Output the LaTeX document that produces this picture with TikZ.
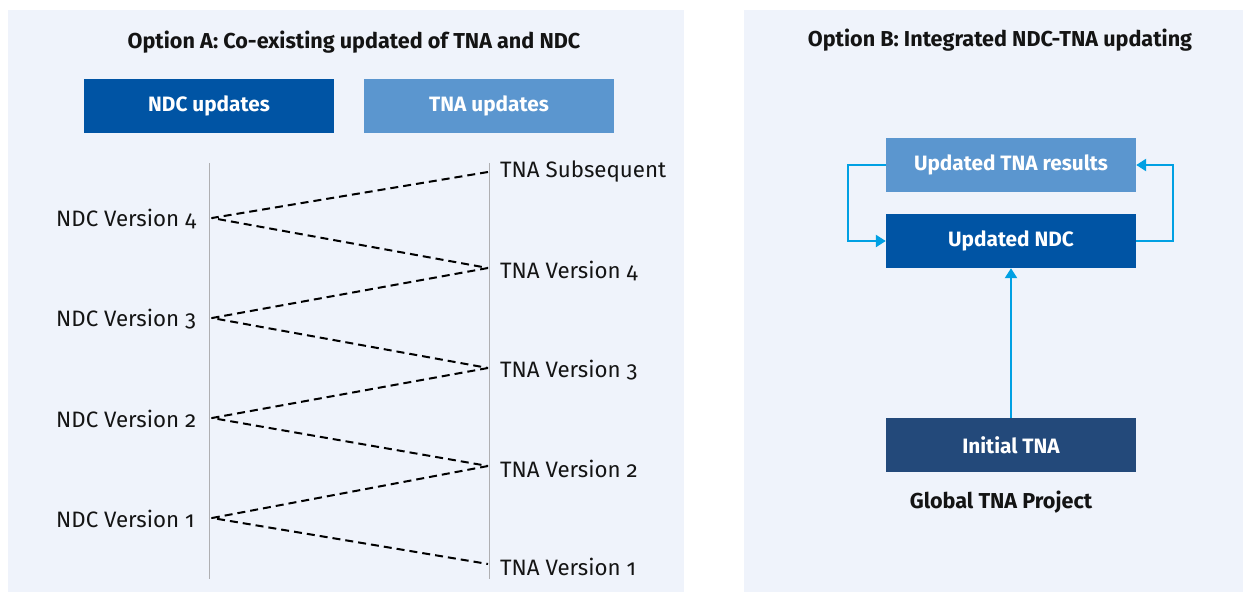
\documentclass[tikz,border=0pt]{standalone}
\usepackage{fontspec}
\setmainfont{Fira Sans}[Numbers=OldStyle]
\usetikzlibrary{arrows.meta}
\definecolor{panelbg}{RGB}{239,243,251}
\definecolor{ndcblue}{RGB}{0,84,164}
\definecolor{tnablue}{RGB}{91,150,207}
\definecolor{initblue}{RGB}{35,73,122}
\definecolor{arrowc}{RGB}{0,160,227}
\definecolor{vline}{RGB}{175,175,178}
\definecolor{txt}{RGB}{20,20,20}
\begin{document}
\begin{tikzpicture}[x=1pt,y=-1pt,
  lbl/.style={font=\fontsize{22.3}{26}\selectfont, inner sep=0, text=txt},
  ttl/.style={font=\fontsize{21.6}{25}\selectfont\bfseries, inner sep=0, text=txt},
  hbox/.style={minimum width=250pt, minimum height=54pt, inner sep=0, text=white, font=\fontsize{20.8}{24}\selectfont\bfseries},
  dline/.style={draw=black, line width=2pt, dash pattern=on 8pt off 5pt, line join=round},
  axis/.style={draw=vline, line width=0.8pt},
  loopar/.style={draw=arrowc, line width=2.4pt, -{Triangle[width=12pt,length=10pt]}}
]
\useasboundingbox (0,0) rectangle (1243,592);
\fill[white] (0,0) rectangle (1243,592);
% panels
\fill[panelbg] (8,10) rectangle (684,592);
\fill[panelbg] (744,10) rectangle (1243,592);

% ---------- Option A ----------
\node[ttl] (titleA) at (354,42) {Option A: Co-existing updated of TNA and NDC};
\node[hbox, fill=ndcblue] (hndc) at (209,106) {NDC updates};
\node[hbox, fill=tnablue] (htna) at (489,106) {TNA updates};

\coordinate (ltop) at (209,163);
\coordinate (lbot) at (209,579);
\coordinate (rtop) at (489,163);
\coordinate (rbot) at (489,579);
\draw[axis] (ltop) -- (lbot);
\draw[axis] (rtop) -- (rbot);

% NDC labels
\node[lbl, anchor=west] (n4) at (56,219) {NDC Version 4};
\node[lbl, anchor=west] (n3) at (56,319) {NDC Version 3};
\node[lbl, anchor=west] (n2) at (56,419) {NDC Version 2};
\node[lbl, anchor=west] (n1) at (56,519) {NDC Version 1};
% TNA labels
\node[lbl, anchor=west] (ts) at (500,172) {TNA Subsequent};
\node[lbl, anchor=west] (t4) at (500,271) {TNA Version 4};
\node[lbl, anchor=west] (t3) at (500,370) {TNA Version 3};
\node[lbl, anchor=west] (t2) at (500,469) {TNA Version 2};
\node[lbl, anchor=west] (t1) at (500,567) {TNA Version 1};

% junction points
\coordinate (jn4) at (212,218);
\coordinate (jn3) at (212,318);
\coordinate (jn2) at (212,418);
\coordinate (jn1) at (212,518);
\coordinate (jts) at (488,172);
\coordinate (jt4) at (488,268);
\coordinate (jt3) at (488,368);
\coordinate (jt2) at (488,466);
\coordinate (jt1) at (488,564);

\draw[dline] (jts) -- (jn4) -- (jt4);
\draw[dline] (jt4) -- (jn3) -- (jt3);
\draw[dline] (jt3) -- (jn2) -- (jt2);
\draw[dline] (jt2) -- (jn1) -- (jt1);

% ---------- Option B ----------
\node[ttl] (titleB) at (1000,40) {Option B: Integrated NDC-TNA updating};
\node[hbox, fill=tnablue] (res) at (1011,165) {Updated TNA results};
\node[hbox, fill=ndcblue] (undc) at (1011,241) {Updated NDC};
\node[hbox, fill=initblue] (init) at (1011,445) {Initial TNA};
\node[ttl] (glob) at (1001,502) {Global TNA Project};

\draw[loopar] (res.west) -- ++(-38,0) |- (undc.west);
\draw[loopar] (undc.east) -- ++(37,0) |- (res.east);
\draw[loopar] (init.north) -- (undc.south);
\end{tikzpicture}
\end{document}
